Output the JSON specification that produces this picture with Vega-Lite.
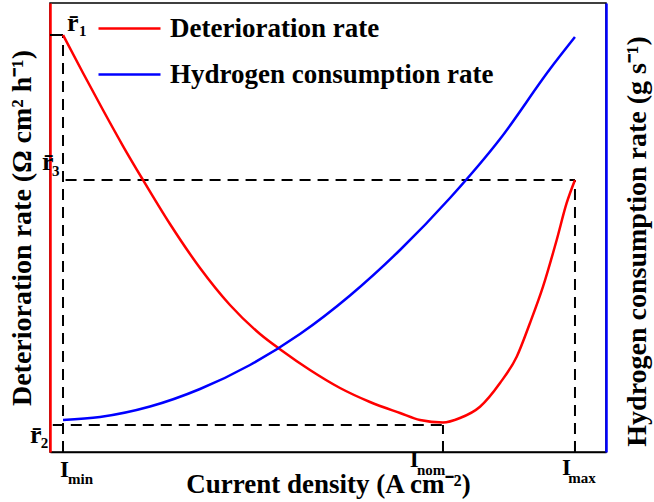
{
  "$schema": "https://vega.github.io/schema/vega-lite/v6.json",
  "width": 556,
  "height": 449,
  "autosize": {"type": "none"},
  "padding": {"left": 50, "top": 3, "right": 48, "bottom": 50},
  "background": "white",
  "config": {"view": {"stroke": "black", "strokeWidth": 1.5}, "font": "Liberation Serif"},
  "datasets": {
    "det": [
      {"series": "Deterioration rate", "x": 2.34, "y": 92.87},
      {"series": "Deterioration rate", "x": 5.94, "y": 84.41},
      {"series": "Deterioration rate", "x": 9.53, "y": 76.17},
      {"series": "Deterioration rate", "x": 13.13, "y": 68.15},
      {"series": "Deterioration rate", "x": 16.73, "y": 60.58},
      {"series": "Deterioration rate", "x": 21.58, "y": 50.78},
      {"series": "Deterioration rate", "x": 26.98, "y": 40.98},
      {"series": "Deterioration rate", "x": 32.37, "y": 32.74},
      {"series": "Deterioration rate", "x": 37.77, "y": 26.28},
      {"series": "Deterioration rate", "x": 41.55, "y": 22.72},
      {"series": "Deterioration rate", "x": 46.76, "y": 18.26},
      {"series": "Deterioration rate", "x": 52.16, "y": 14.25},
      {"series": "Deterioration rate", "x": 57.55, "y": 11.14},
      {"series": "Deterioration rate", "x": 62.95, "y": 8.69},
      {"series": "Deterioration rate", "x": 66.55, "y": 7.13},
      {"series": "Deterioration rate", "x": 70.68, "y": 6.57},
      {"series": "Deterioration rate", "x": 73.74, "y": 7.57},
      {"series": "Deterioration rate", "x": 77.34, "y": 10.09},
      {"series": "Deterioration rate", "x": 80.94, "y": 15.37},
      {"series": "Deterioration rate", "x": 83.94, "y": 21.22},
      {"series": "Deterioration rate", "x": 86.33, "y": 28.73},
      {"series": "Deterioration rate", "x": 88.67, "y": 36.82},
      {"series": "Deterioration rate", "x": 91.13, "y": 47.22},
      {"series": "Deterioration rate", "x": 92.93, "y": 55.46},
      {"series": "Deterioration rate", "x": 94.42, "y": 60.58}
    ],
    "hyd": [
      {"series": "Hydrogen consumption rate", "x": 2.34, "y": 7.13},
      {"series": "Hydrogen consumption rate", "x": 8.99, "y": 7.8},
      {"series": "Hydrogen consumption rate", "x": 17.99, "y": 10.13},
      {"series": "Hydrogen consumption rate", "x": 26.98, "y": 14.03},
      {"series": "Hydrogen consumption rate", "x": 35.97, "y": 19.38},
      {"series": "Hydrogen consumption rate", "x": 44.96, "y": 26.28},
      {"series": "Hydrogen consumption rate", "x": 53.96, "y": 34.86},
      {"series": "Hydrogen consumption rate", "x": 62.95, "y": 44.99},
      {"series": "Hydrogen consumption rate", "x": 71.94, "y": 56.57},
      {"series": "Hydrogen consumption rate", "x": 80.94, "y": 69.71},
      {"series": "Hydrogen consumption rate", "x": 89.93, "y": 85.3},
      {"series": "Hydrogen consumption rate", "x": 94.42, "y": 92.43}
    ],
    "dashes": [
      {"x": 2.34, "x2": 2.34, "y": 0, "y2": 92.87},
      {"x": 70.68, "x2": 70.68, "y": 0, "y2": 6.0},
      {"x": 94.42, "x2": 94.42, "y": 0, "y2": 60.58},
      {"x": 2.8, "x2": 94.42, "y": 60.58, "y2": 60.58},
      {"x": 0.5, "x2": 70.68, "y": 6.0, "y2": 6.0}
    ],
    "solid": [
      {"x": 0, "x2": 2.34, "y": 92.87, "y2": 92.87}
    ],
    "rlab": [
      {"t": "r̄", "x": 3.06, "y": 93.8},
      {"t": "r̄", "x": -1.44, "y": 62.8},
      {"t": "r̄", "x": -3.6, "y": 2.0}
    ],
    "rsub": [
      {"t": "1", "x": 5.2, "y": 92.6},
      {"t": "3", "x": 0.36, "y": 61.5},
      {"t": "2", "x": -1.67, "y": 0.9}
    ],
    "ilab": [
      {"t": "I", "x": 1.8, "y": -5.57},
      {"t": "I", "x": 64.7, "y": -3.34},
      {"t": "I", "x": 92.1, "y": -5.1}
    ],
    "isub": [
      {"t": "min", "x": 3.24, "y": -7.1},
      {"t": "nom", "x": 66.0, "y": -5.1},
      {"t": "max", "x": 93.2, "y": -6.9}
    ]
  },
  "layer": [
    {
      "data": {"name": "dashes"},
      "mark": {"type": "rule", "color": "black", "strokeWidth": 2, "strokeDash": [11, 7]},
      "encoding": {
        "x": {"field": "x", "type": "quantitative", "scale": {"domain": [0, 100]},
          "axis": {"title": "Current density (A cm⁻²)", "domainColor": "black", "domainWidth": 1.5, "ticks": false, "labels": false, "grid": false,
            "titleFont": "Liberation Serif", "titleFontSize": 27, "titleFontWeight": "bold", "titleColor": "black", "titlePadding": 19}},
        "x2": {"field": "x2"},
        "y": {"field": "y", "type": "quantitative", "scale": {"domain": [0, 100]},
          "axis": {"orient": "left", "title": "Deterioration rate (Ω cm² h⁻¹)", "domainColor": "#ff0000", "domainWidth": 2.5, "ticks": false, "labels": false, "grid": false,
            "titleFont": "Liberation Serif", "titleFontSize": 28, "titleFontWeight": "bold", "titleColor": "black", "titlePadding": 14}},
        "y2": {"field": "y2"}
      }
    },
    {
      "data": {"name": "solid"},
      "mark": {"type": "rule", "color": "black", "strokeWidth": 2},
      "encoding": {
        "x": {"field": "x", "type": "quantitative"},
        "x2": {"field": "x2"},
        "y": {"field": "y", "type": "quantitative", "scale": {"domain": [0, 100]}, "axis": null},
        "y2": {"field": "y2"}
      }
    },
    {
      "data": {"name": "det"},
      "mark": {"type": "line", "strokeWidth": 2.5, "interpolate": "monotone"},
      "encoding": {
        "x": {"field": "x", "type": "quantitative"},
        "y": {"field": "y", "type": "quantitative", "scale": {"domain": [0, 100]}, "axis": null},
        "color": {"field": "series", "type": "nominal",
          "scale": {"domain": ["Deterioration rate", "Hydrogen consumption rate"], "range": ["#ff0000", "#0000ff"]},
          "legend": {"orient": "none", "legendX": 47, "legendY": -7, "title": null, "symbolType": "stroke", "symbolSize": 3844, "symbolStrokeWidth": 2.5,
            "labelFont": "Liberation Serif", "labelFontSize": 27, "labelFontWeight": "bold", "labelColor": "black", "labelOffset": 8, "rowPadding": -26, "padding": 0, "labelLimit": 500}}
      }
    },
    {
      "data": {"name": "hyd"},
      "mark": {"type": "line", "strokeWidth": 2.5, "interpolate": "monotone"},
      "encoding": {
        "x": {"field": "x", "type": "quantitative"},
        "y": {"field": "y", "type": "quantitative", "scale": {"domain": [0, 100]},
          "axis": {"orient": "right", "title": "Hydrogen consumption rate (g s⁻¹)", "domainColor": "#0000ff", "domainWidth": 2.5, "ticks": false, "labels": false, "grid": false,
            "titleFont": "Liberation Serif", "titleFontSize": 28, "titleFontWeight": "bold", "titleColor": "black", "titleAngle": 270, "titleBaseline": "top", "titlePadding": 17, "titleY": 238}},
        "color": {"field": "series", "type": "nominal"}
      }
    },
    {
      "data": {"name": "rlab"},
      "mark": {"type": "text", "align": "left", "baseline": "alphabetic", "font": "Liberation Serif", "fontWeight": "bold", "fontSize": 26, "color": "black"},
      "encoding": {
        "x": {"field": "x", "type": "quantitative"},
        "y": {"field": "y", "type": "quantitative", "scale": {"domain": [0, 100]}, "axis": null},
        "text": {"field": "t"}
      }
    },
    {
      "data": {"name": "rsub"},
      "mark": {"type": "text", "align": "left", "baseline": "alphabetic", "font": "Liberation Serif", "fontWeight": "bold", "fontSize": 15, "color": "black"},
      "encoding": {
        "x": {"field": "x", "type": "quantitative"},
        "y": {"field": "y", "type": "quantitative", "scale": {"domain": [0, 100]}, "axis": null},
        "text": {"field": "t"}
      }
    },
    {
      "data": {"name": "ilab"},
      "mark": {"type": "text", "align": "left", "baseline": "alphabetic", "font": "Liberation Serif", "fontWeight": "bold", "fontSize": 23, "color": "black"},
      "encoding": {
        "x": {"field": "x", "type": "quantitative"},
        "y": {"field": "y", "type": "quantitative", "scale": {"domain": [0, 100]}, "axis": null},
        "text": {"field": "t"}
      }
    },
    {
      "data": {"name": "isub"},
      "mark": {"type": "text", "align": "left", "baseline": "alphabetic", "font": "Liberation Serif", "fontWeight": "bold", "fontSize": 15, "color": "black"},
      "encoding": {
        "x": {"field": "x", "type": "quantitative"},
        "y": {"field": "y", "type": "quantitative", "scale": {"domain": [0, 100]}, "axis": null},
        "text": {"field": "t"}
      }
    }
  ],
  "resolve": {"scale": {"y": "independent"}}
}
